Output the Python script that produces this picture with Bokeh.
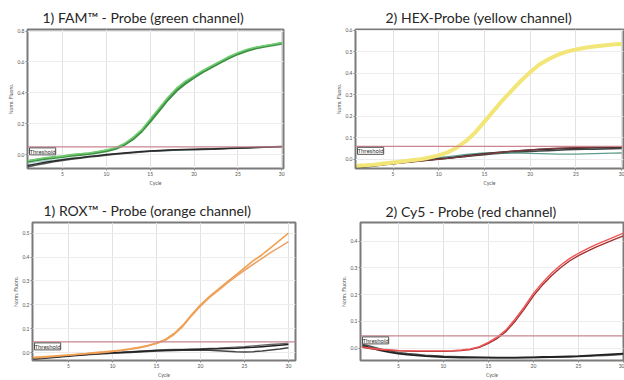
from bokeh.plotting import figure
from bokeh.layouts import column, row
from bokeh.models import Range1d, FixedTicker, Label, Span
from bokeh.embed import file_html
from bokeh.resources import INLINE

cycles = list(range(1, 31))
x_ticks = [5, 10, 15, 20, 25, 30]
x_tick_labels = ["5", "10", "15", "20", "25", "30"]

# Panel 1: FAM
fam_title = "1) FAM\u2122 - Probe (green channel)"
fam_yticks = [0.0, 0.2, 0.4, 0.6, 0.8]
fam_ylabels = ["0.0", "0.2", "0.4", "0.6", "0.8"]
fam_threshold = 0.05
fam_green_a = [-0.04, -0.03, -0.02, -0.015, -0.01, 0.0, 0.005, 0.01, 0.02, 0.03, 0.045, 0.07, 0.11, 0.16, 0.23,
               0.30, 0.37, 0.43, 0.475, 0.51, 0.545, 0.575, 0.605, 0.635, 0.66, 0.68, 0.695, 0.705, 0.715, 0.725]
fam_green_b = [-0.045, -0.035, -0.027, -0.02, -0.014, -0.006, 0.0, 0.006, 0.014, 0.024, 0.038, 0.062, 0.1, 0.15, 0.215,
               0.285, 0.355, 0.415, 0.46, 0.5, 0.535, 0.567, 0.597, 0.627, 0.652, 0.672, 0.688, 0.7, 0.71, 0.72]
fam_teal = [-0.055, -0.048, -0.041, -0.035, -0.029, -0.023, -0.018, -0.012, -0.007, -0.002, 0.003, 0.008, 0.012, 0.016, 0.02,
            0.023, 0.026, 0.028, 0.03, 0.032, 0.034, 0.036, 0.038, 0.04, 0.042, 0.044, 0.046, 0.048, 0.05, 0.052]
fam_black_a = [-0.07, -0.06, -0.05, -0.041, -0.033, -0.026, -0.02, -0.013, -0.007, 0.0, 0.005, 0.01, 0.015, 0.02, 0.023,
               0.026, 0.029, 0.031, 0.033, 0.035, 0.036, 0.037, 0.039, 0.041, 0.043, 0.045, 0.047, 0.049, 0.051, 0.053]
fam_black_b = [-0.08, -0.068, -0.057, -0.047, -0.038, -0.03, -0.023, -0.016, -0.01, -0.004, 0.002, 0.007, 0.012, 0.017, 0.021,
               0.024, 0.027, 0.029, 0.031, 0.032, 0.033, 0.035, 0.037, 0.039, 0.041, 0.043, 0.045, 0.047, 0.049, 0.051]

# Panel 2: HEX
hex_title = "2) HEX-Probe (yellow channel)"
hex_yticks = [0.0, 0.1, 0.2, 0.3, 0.4, 0.5, 0.6]
hex_ylabels = ["0.0", "0.1", "0.2", "0.3", "0.4", "0.5", "0.6"]
hex_threshold = 0.06
hex_yellow = [-0.03, -0.028, -0.025, -0.02, -0.015, -0.01, -0.005, 0.0, 0.008, 0.018, 0.032, 0.055, 0.085, 0.125, 0.175,
              0.225, 0.275, 0.32, 0.365, 0.405, 0.44, 0.465, 0.485, 0.5, 0.51, 0.518, 0.524, 0.529, 0.533, 0.536]
hex_black_a = [-0.03, -0.027, -0.024, -0.021, -0.018, -0.014, -0.01, -0.006, -0.002, 0.002, 0.006, 0.011, 0.016, 0.021, 0.026,
               0.03, 0.034, 0.037, 0.04, 0.043, 0.045, 0.047, 0.049, 0.05, 0.051, 0.052, 0.053, 0.054, 0.055, 0.056]
hex_maroon = [-0.034, -0.031, -0.028, -0.025, -0.021, -0.017, -0.013, -0.009, -0.004, 0.0, 0.004, 0.009, 0.014, 0.019, 0.024,
              0.029, 0.033, 0.037, 0.041, 0.044, 0.047, 0.049, 0.051, 0.053, 0.054, 0.055, 0.056, 0.057, 0.058, 0.058]
hex_teal = [-0.035, -0.032, -0.028, -0.023, -0.018, -0.013, -0.008, -0.003, 0.002, 0.007, 0.012, 0.017, 0.022, 0.026, 0.029,
            0.03, 0.03, 0.029, 0.028, 0.027, 0.026, 0.025, 0.024, 0.024, 0.024, 0.025, 0.026, 0.027, 0.028, 0.029]
hex_black_b = [-0.04, -0.036, -0.031, -0.026, -0.021, -0.016, -0.011, -0.007, -0.003, 0.001, 0.005, 0.009, 0.013, 0.017, 0.021,
               0.025, 0.028, 0.031, 0.034, 0.036, 0.038, 0.04, 0.042, 0.044, 0.045, 0.046, 0.047, 0.048, 0.049, 0.05]

# Panel 3: ROX
rox_title = "1) ROX\u2122 - Probe (orange channel)"
rox_yticks = [0.0, 0.1, 0.2, 0.3, 0.4, 0.5]
rox_ylabels = ["0.0", "0.1", "0.2", "0.3", "0.4", "0.5"]
rox_threshold = 0.045
rox_orange_a = [-0.02, -0.018, -0.015, -0.012, -0.01, -0.007, -0.004, 0.0, 0.003, 0.007, 0.011, 0.016, 0.022, 0.03, 0.04,
                0.055, 0.08, 0.115, 0.16, 0.2, 0.235, 0.265, 0.295, 0.325, 0.355, 0.385, 0.41, 0.44, 0.47, 0.5]
rox_orange_b = [-0.022, -0.02, -0.017, -0.014, -0.011, -0.008, -0.005, -0.002, 0.001, 0.005, 0.009, 0.014, 0.02, 0.028, 0.038,
                0.052, 0.076, 0.11, 0.155, 0.195, 0.23, 0.26, 0.29, 0.318, 0.345, 0.37, 0.395, 0.42, 0.442, 0.465]
rox_black_a = [-0.025, -0.022, -0.019, -0.016, -0.013, -0.01, -0.008, -0.005, -0.003, -0.001, 0.001, 0.003, 0.005, 0.007, 0.009,
               0.01, 0.011, 0.012, 0.013, 0.014, 0.015, 0.016, 0.017, 0.018, 0.02, 0.022, 0.025, 0.028, 0.031, 0.034]
rox_black_b = [-0.028, -0.025, -0.021, -0.018, -0.015, -0.012, -0.009, -0.007, -0.005, -0.003, -0.001, 0.001, 0.003, 0.005, 0.007,
               0.008, 0.009, 0.01, 0.01, 0.011, 0.01, 0.008, 0.006, 0.004, 0.003, 0.004, 0.007, 0.011, 0.015, 0.02]
rox_black_c = [-0.024, -0.021, -0.018, -0.015, -0.012, -0.009, -0.006, -0.004, -0.002, 0.0, 0.002, 0.004, 0.006, 0.008, 0.01,
               0.012, 0.013, 0.014, 0.015, 0.016, 0.018, 0.019, 0.021, 0.023, 0.025, 0.028, 0.031, 0.034, 0.037, 0.04]

# Panel 4: Cy5
cy5_title = "2) Cy5 - Probe (red channel)"
cy5_yticks = [0.0, 0.1, 0.2, 0.3, 0.4]
cy5_ylabels = ["0.0", "0.1", "0.2", "0.3", "0.4"]
cy5_threshold = 0.046
cy5_red_a = [0.005, 0.0, -0.004, -0.006, -0.008, -0.009, -0.01, -0.01, -0.01, -0.01, -0.009, -0.007, -0.003, 0.006, 0.022,
             0.042, 0.07, 0.11, 0.155, 0.205, 0.245, 0.28, 0.31, 0.335, 0.355, 0.372, 0.388, 0.402, 0.416, 0.43]
cy5_red_b = [0.003, -0.002, -0.006, -0.008, -0.01, -0.011, -0.012, -0.012, -0.012, -0.012, -0.011, -0.009, -0.005, 0.003, 0.018,
             0.037, 0.064, 0.102, 0.147, 0.196, 0.236, 0.271, 0.301, 0.326, 0.346, 0.363, 0.379, 0.393, 0.407, 0.42]
cy5_black_a = [0.01, 0.0, -0.008, -0.015, -0.02, -0.024, -0.027, -0.03, -0.031, -0.033, -0.034, -0.035, -0.035, -0.035, -0.035,
               -0.035, -0.035, -0.035, -0.034, -0.034, -0.033, -0.033, -0.032, -0.031, -0.03, -0.028, -0.026, -0.024, -0.022, -0.02]
cy5_black_b = [0.015, 0.006, -0.003, -0.01, -0.016, -0.02, -0.023, -0.026, -0.028, -0.03, -0.031, -0.032, -0.033, -0.034, -0.035,
               -0.036, -0.036, -0.036, -0.036, -0.035, -0.035, -0.034, -0.033, -0.032, -0.031, -0.03, -0.028, -0.027, -0.025, -0.023]


def make_panel(title, width, height, borders, xr, yr, yticks, ylabels, threshold, series, title_offset, standoff):
    left, right, top, bottom = borders
    p = figure(width=width, height=height, output_backend="svg", toolbar_location=None,
               x_range=Range1d(*xr), y_range=Range1d(*yr),
               min_border_left=left, min_border_right=right, min_border_top=top, min_border_bottom=bottom)
    p.title.text = title
    p.title.align = "left"
    p.title.offset = title_offset
    p.title.text_font = "Lato"
    p.title.text_font_size = "14px"
    p.title.text_font_style = "normal"
    p.title.text_color = "#262626"
    p.title.standoff = standoff
    p.background_fill_color = "white"
    p.border_fill_color = "white"
    p.outline_line_color = "#7a7a7a"
    p.outline_line_width = 2

    p.xaxis.ticker = FixedTicker(ticks=x_ticks)
    p.xaxis.major_label_overrides = dict(zip(x_ticks, x_tick_labels))
    p.yaxis.ticker = FixedTicker(ticks=yticks)
    p.yaxis.major_label_overrides = dict(zip(yticks, ylabels))
    p.xaxis.axis_label = "Cycle"
    p.yaxis.axis_label = "Norm. Fluoro."
    for ax in (p.xaxis[0], p.yaxis[0]):
        ax.axis_line_color = None
        ax.major_tick_in = 0
        ax.major_tick_out = 2
        ax.major_tick_line_color = "#888888"
        ax.minor_tick_line_color = None
        ax.major_label_text_font_size = "5px"
        ax.major_label_text_color = "#555555"
        ax.major_label_text_font = "Lato"
        ax.major_label_standoff = 1
        ax.axis_label_text_font_size = "5px"
        ax.axis_label_text_font_style = "normal"
        ax.axis_label_text_color = "#555555"
        ax.axis_label_text_font = "Lato"
        ax.axis_label_standoff = 1
    p.xgrid.grid_line_color = "#e2e2e2"
    p.ygrid.grid_line_color = "#ececec"

    for ys, color, lw in series:
        p.line(cycles, ys, line_color=color, line_width=lw, line_join="round")

    p.add_layout(Span(location=threshold, dimension="width", line_color="#c98590", line_width=1.2))
    p.add_layout(Label(x=xr[0], y=threshold, text="Threshold", text_font_size="6px", text_font="Lato",
                       text_color="#333333", text_baseline="top", x_offset=2, y_offset=-1,
                       border_line_color="#555555", border_line_width=1, background_fill_color="white"))
    return p


p1 = make_panel(fam_title, 312, 190, (27, 29, 29, 22), (1.0, 30.2), (-0.09, 0.81), fam_yticks, fam_ylabels,
                fam_threshold,
                [(fam_teal, "#9fd6d0", 1.2), (fam_black_b, "#555555", 1.5), (fam_black_a, "#2a2a2a", 1.5),
                 (fam_green_b, "#3f8f44", 2.6), (fam_green_a, "#6fcc6f", 1.6)], 15, 8)
p2 = make_panel(hex_title, 312, 190, (43, 1, 29, 22), (0.9, 30.2), (-0.043, 0.603), hex_yticks, hex_ylabels,
                hex_threshold,
                [(hex_black_b, "#444444", 1.5), (hex_teal, "#5f9e8e", 1.3), (hex_black_a, "#2a2a2a", 1.5),
                 (hex_maroon, "#7a3a3a", 1.3), (hex_yellow, "#f2e678", 4)], 30, 8)
p3 = make_panel(rox_title, 312, 190, (32, 17, 32, 18), (0.9, 30.8), (-0.033, 0.545), rox_yticks, rox_ylabels,
                rox_threshold,
                [(rox_black_b, "#444444", 1.5), (rox_black_c, "#666666", 1.3), (rox_black_a, "#222222", 1.5),
                 (rox_orange_b, "#eaa46a", 1.6), (rox_orange_a, "#f0a050", 1.6)], 11, 7)
p4 = make_panel(cy5_title, 312, 190, (48, 1, 28, 17), (0.8, 30.0), (-0.046, 0.47), cy5_yticks, cy5_ylabels,
                cy5_threshold,
                [(cy5_black_b, "#555555", 1.5), (cy5_black_a, "#222222", 1.8),
                 (cy5_red_b, "#a33030", 1.4), (cy5_red_a, "#ee5555", 1.4)], 25, 5)

layout = column(row(p1, p2, spacing=0), row(p3, p4, spacing=0), spacing=0)
open("out.html", "w").write(file_html(layout, INLINE))
